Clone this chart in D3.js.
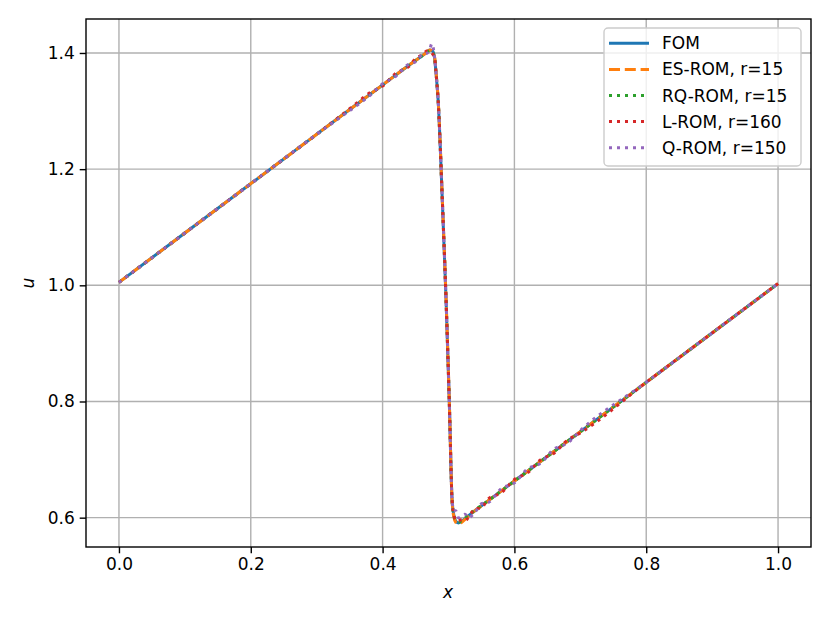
<!DOCTYPE html>
<html>
<head>
<meta charset="utf-8">
<script src="https://cdn.jsdelivr.net/npm/d3@7"></script>
<style>
  body { margin: 0; background: #fff; }
  svg { display: block; }
  text { font-family: "DejaVu Sans", sans-serif; }
</style>
</head>
<body>
<svg id="chart" width="830" height="623"></svg>
<script>
// ---- data ----
const fomX = [0, 0.1, 0.2, 0.3, 0.4, 0.45, 0.46, 0.468, 0.472, 0.476, 0.479, 0.4815, 0.4842, 0.4905, 0.4963, 0.5012, 0.5054, 0.508, 0.511, 0.515, 0.52, 0.53, 0.56, 0.6, 0.7, 0.8, 0.9, 1.0];
const fomU = [1.005, 1.090, 1.175, 1.260, 1.345, 1.387, 1.395, 1.402, 1.405, 1.403, 1.390, 1.360, 1.320, 1.150, 0.975, 0.800, 0.631, 0.605, 0.594, 0.591, 0.594, 0.603, 0.629, 0.663, 0.748, 0.833, 0.918, 1.003];

const romX = [0, 0.1, 0.2, 0.3, 0.36, 0.38, 0.40, 0.42, 0.44, 0.45, 0.46, 0.468, 0.472, 0.4747, 0.479, 0.4815, 0.4842, 0.4905, 0.4963, 0.5012, 0.5054, 0.508, 0.511, 0.515, 0.52, 0.525, 0.53, 0.54, 0.55, 0.56, 0.58, 0.6, 0.62, 0.64, 0.66, 0.68, 0.7, 0.8, 0.9, 1.0];
const esU = [1.005, 1.090, 1.175, 1.260, 1.311, 1.328, 1.345, 1.362, 1.379, 1.387, 1.395, 1.402, 1.405, 1.404, 1.392, 1.362, 1.322, 1.152, 0.977, 0.802, 0.630, 0.602, 0.592, 0.589, 0.592, 0.597, 0.602, 0.612, 0.620, 0.629, 0.646, 0.663, 0.680, 0.697, 0.714, 0.731, 0.748, 0.833, 0.918, 1.003];
const rqU = [1.005, 1.090, 1.175, 1.260, 1.311, 1.328, 1.345, 1.362, 1.379, 1.387, 1.395, 1.402, 1.404, 1.403, 1.390, 1.360, 1.320, 1.150, 0.975, 0.800, 0.631, 0.605, 0.596, 0.592, 0.595, 0.599, 0.604, 0.613, 0.621, 0.629, 0.646, 0.663, 0.680, 0.697, 0.714, 0.731, 0.748, 0.833, 0.918, 1.003];
const lU  = [1.005, 1.090, 1.175, 1.260, 1.313, 1.331, 1.343, 1.365, 1.377, 1.390, 1.397, 1.404, 1.402, 1.400, 1.390, 1.360, 1.320, 1.150, 0.975, 0.800, 0.631, 0.605, 0.596, 0.594, 0.597, 0.595, 0.600, 0.615, 0.617, 0.632, 0.643, 0.666, 0.677, 0.700, 0.711, 0.733, 0.746, 0.833, 0.918, 1.003];
const qU  = [1.005, 1.090, 1.175, 1.260, 1.309, 1.326, 1.347, 1.360, 1.381, 1.385, 1.397, 1.400, 1.408, 1.416, 1.391, 1.360, 1.320, 1.150, 0.975, 0.800, 0.632, 0.612, 0.612, 0.600, 0.603, 0.606, 0.600, 0.609, 0.624, 0.626, 0.650, 0.660, 0.684, 0.694, 0.718, 0.728, 0.750, 0.833, 0.918, 1.003];

const seriesNames = ["FOM", "ES-ROM, r=15", "RQ-ROM, r=15", "L-ROM, r=160", "Q-ROM, r=150"];
const seriesColors = ["#1f77b4", "#ff7f0e", "#2ca02c", "#d62728", "#9467bd"];
const xTicks = [0.0, 0.2, 0.4, 0.6, 0.8, 1.0];
const yTicks = [0.6, 0.8, 1.0, 1.2, 1.4];

// ---- layout ----
const svg = d3.select("#chart");
const L = 86, R = 811, T = 19, B = 547;
const x = d3.scaleLinear().domain([-0.05, 1.05]).range([L, R]);
const y = d3.scaleLinear().domain([0.5495, 1.4585]).range([B, T]);

const fontSize = 17;
const lw = 3;

// grid
const g = svg.append("g");
g.selectAll(".gx").data(xTicks).enter().append("line")
  .attr("x1", d => x(d)).attr("x2", d => x(d)).attr("y1", T).attr("y2", B)
  .attr("stroke", "#b0b0b0").attr("stroke-width", 1.4);
g.selectAll(".gy").data(yTicks).enter().append("line")
  .attr("y1", d => y(d)).attr("y2", d => y(d)).attr("x1", L).attr("x2", R)
  .attr("stroke", "#b0b0b0").attr("stroke-width", 1.4);

// clip
svg.append("clipPath").attr("id", "clip").append("rect")
  .attr("x", L).attr("y", T).attr("width", R - L).attr("height", B - T);

const line = d3.line().x(d => x(d[0])).y(d => y(d[1])).curve(d3.curveMonotoneX);
const zip = (xs, us) => xs.map((v, i) => [v, us[i]]);

const dash = [null, "11 4.8", "3 5", "3 5", "3 5"];
const datasets = [zip(fomX, fomU), zip(romX, esU), zip(romX, rqU), zip(romX, lU), zip(romX, qU)];

const plot = svg.append("g").attr("clip-path", "url(#clip)");
datasets.forEach((d, i) => {
  plot.append("path").datum(d)
    .attr("d", line)
    .attr("fill", "none")
    .attr("stroke", seriesColors[i])
    .attr("stroke-width", lw)
    .attr("stroke-dasharray", dash[i])
    .attr("stroke-linecap", "butt")
    .attr("stroke-linejoin", "round");
});

// axes
const xAxis = d3.axisBottom(x).tickValues(xTicks).tickFormat(d3.format(".1f")).tickSize(6.3).tickPadding(5);
const yAxis = d3.axisLeft(y).tickValues(yTicks).tickFormat(d3.format(".1f")).tickSize(6.3).tickPadding(5);
const gx = svg.append("g").attr("transform", `translate(0,${B})`).call(xAxis);
const gy = svg.append("g").attr("transform", `translate(${L},0)`).call(yAxis);
[gx, gy].forEach(a => {
  a.select(".domain").remove();
  a.selectAll("line").attr("stroke", "#000").attr("stroke-width", 1.4);
  a.selectAll("text").attr("font-size", fontSize).attr("fill", "#000")
    .attr("font-family", "DejaVu Sans, sans-serif");
});

// spines
svg.append("rect").attr("x", L).attr("y", T).attr("width", R - L).attr("height", B - T)
  .attr("fill", "none").attr("stroke", "#000").attr("stroke-width", 1.4);

// axis labels
svg.append("text").attr("x", (L + R) / 2 - 0.5).attr("y", 598)
  .attr("text-anchor", "middle").attr("font-size", fontSize).attr("font-style", "italic")
  .text("x");
svg.append("text").attr("transform", `translate(34,${(T + B) / 2}) rotate(-90)`)
  .attr("text-anchor", "middle").attr("font-size", fontSize).attr("font-style", "italic")
  .text("u");

// legend
const lg = svg.append("g");
lg.append("rect").attr("x", 604).attr("y", 28).attr("width", 197).attr("height", 138)
  .attr("rx", 4).attr("fill", "#fff").attr("fill-opacity", 0.8)
  .attr("stroke", "#cccccc").attr("stroke-width", 1.4);
seriesNames.forEach((name, i) => {
  const cy = 43.3 + i * 26.1;
  lg.append("line").attr("x1", 609).attr("x2", 649).attr("y1", cy).attr("y2", cy)
    .attr("stroke", seriesColors[i]).attr("stroke-width", lw)
    .attr("stroke-dasharray", dash[i]).attr("stroke-linecap", "butt");
  lg.append("text").attr("x", 662).attr("y", cy + 6).attr("font-size", fontSize)
    .attr("fill", "#000").text(name);
});
</script>
</body>
</html>
